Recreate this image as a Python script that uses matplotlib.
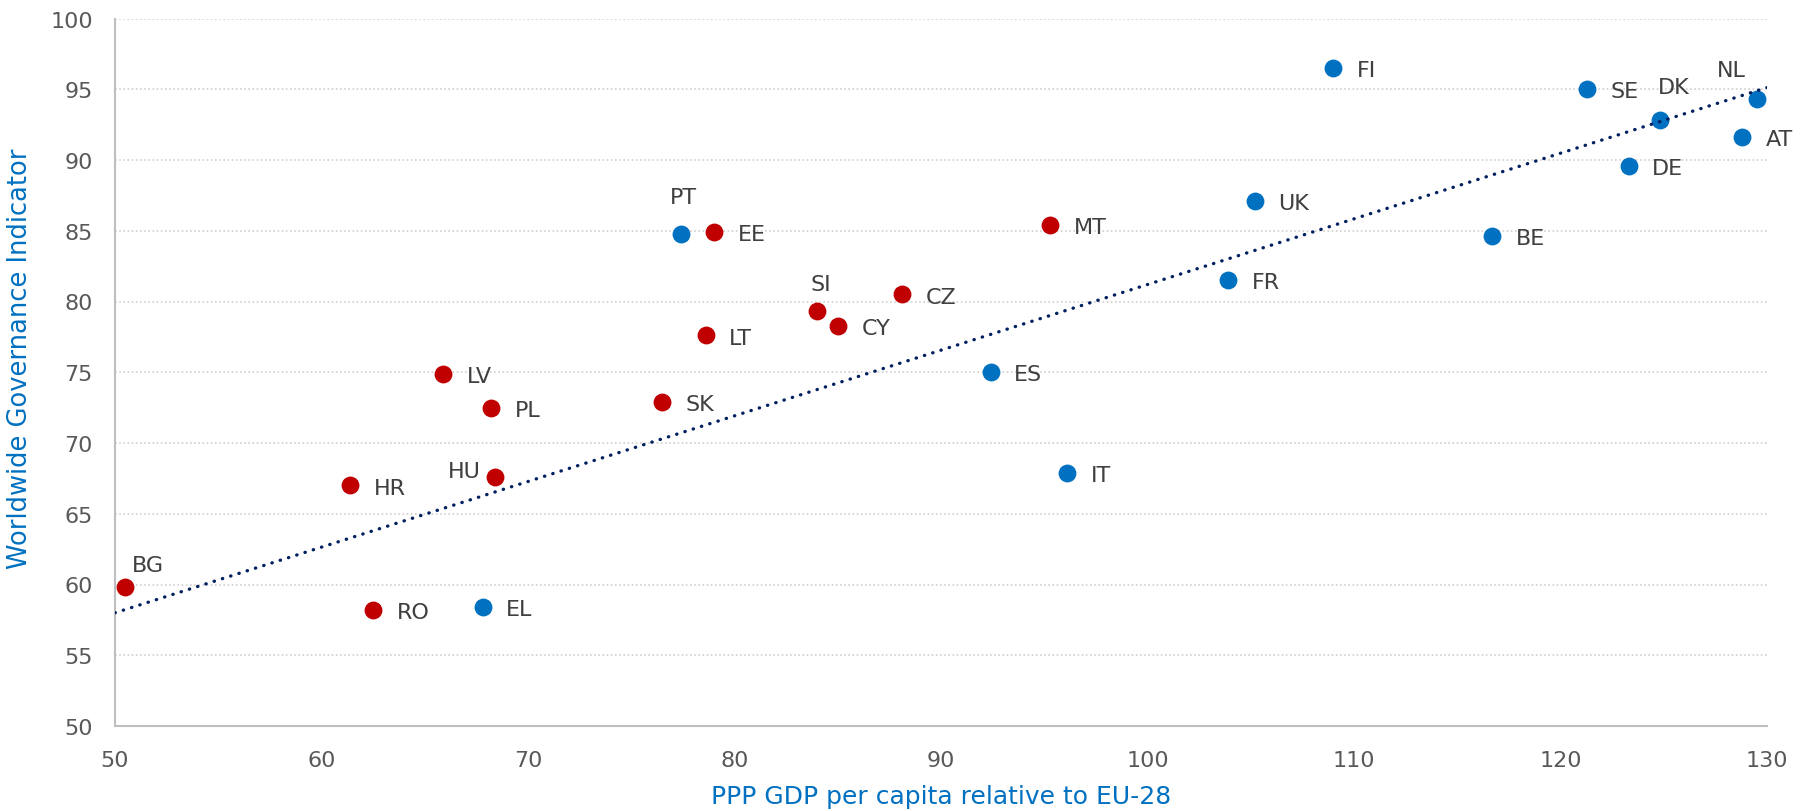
import numpy as np
import matplotlib
matplotlib.use('Agg')
import matplotlib.pyplot as plt

# Data
red_codes = ['BG', 'RO', 'HR', 'HU', 'LV', 'PL', 'SK', 'LT', 'EE', 'SI', 'CY', 'CZ', 'MT']
red_gdp = [50.5, 62.5, 61.4, 68.4, 65.9, 68.2, 76.5, 78.6, 79.0, 84.0, 85.0, 88.1, 95.3]
red_wgi = [59.8, 58.2, 67.0, 67.6, 74.9, 72.5, 72.9, 77.6, 84.9, 79.3, 78.3, 80.5, 85.4]

blue_codes = ['EL', 'PT', 'ES', 'IT', 'FR', 'UK', 'FI', 'BE', 'SE', 'DE', 'DK', 'AT', 'NL']
blue_gdp = [67.8, 77.4, 92.4, 96.1, 103.9, 105.2, 109.0, 116.7, 121.3, 123.3, 124.8, 128.8, 129.5]
blue_wgi = [58.4, 84.8, 75.0, 67.9, 81.5, 87.1, 96.5, 84.6, 95.0, 89.6, 92.8, 91.6, 94.3]

# linear trend line as drawn on the chart (slope, intercept)
trend_slope = 0.464
trend_intercept = 34.8

# label offsets in points (default: right of the dot)
label_offsets = {
    'BG': (5, 16, 'left'), 'PT': (-8, 26, 'left'), 'SI': (-5, 20, 'left'),
    'HU': (-10, 4, 'right'), 'DK': (-1, 24, 'left'), 'NL': (-8, 21, 'right'),
}

RED = '#C00000'
BLUE = '#0070C0'
NAVY = '#002060'
GREY_TXT = '#595959'

fig = plt.figure(figsize=(18.04, 8.12), dpi=100)
ax = fig.add_axes([115 / 1804, 1 - 727 / 812, (1767 - 115) / 1804, (727 - 19.5) / 812])

xs = np.array([50, 130])
ax.plot(xs, trend_intercept + trend_slope * xs, color=NAVY, linestyle=(0, (0.1, 2.5)),
        linewidth=2.4, dash_capstyle='round', zorder=3)

ax.scatter(red_gdp, red_wgi, s=165, color=RED, zorder=2, linewidths=0)
ax.scatter(blue_gdp, blue_wgi, s=165, color=BLUE, zorder=2, linewidths=0)

for codes, xv, yv in [(red_codes, red_gdp, red_wgi), (blue_codes, blue_gdp, blue_wgi)]:
    for c, x, y in zip(codes, xv, yv):
        dx, dy, ha = label_offsets.get(c, (17, -1.5, 'left'))
        ax.annotate(c, (x, y), xytext=(dx, dy), textcoords='offset points',
                    ha=ha, va='center', fontsize=16, color='#404040')

ax.set_xlim(50, 130)
ax.set_ylim(50, 100)
ax.set_xticks(np.arange(50, 131, 10))
ax.set_yticks(np.arange(50, 101, 5))
ax.tick_params(axis='both', length=0, labelsize=16, labelcolor=GREY_TXT)
ax.tick_params(axis='x', pad=17)
ax.tick_params(axis='y', pad=16)
ax.yaxis.grid(True, color='#D0D0D0', linestyle=(0, (1, 1.5)), linewidth=1.2)
ax.set_axisbelow(True)
for s in ['top', 'right']:
    ax.spines[s].set_visible(False)
for s in ['left', 'bottom']:
    ax.spines[s].set_color('#BFBFBF')
    ax.spines[s].set_linewidth(1.5)

ax.set_xlabel('PPP GDP per capita relative to EU-28', fontsize=18, color=BLUE)
ax.set_ylabel('Worldwide Governance Indicator', fontsize=18.5, color=BLUE)
ax.xaxis.set_label_coords(0.5, -0.082)
ax.yaxis.set_label_coords(-0.0496, 0.52)

fig.savefig('out.png', dpi=100)
